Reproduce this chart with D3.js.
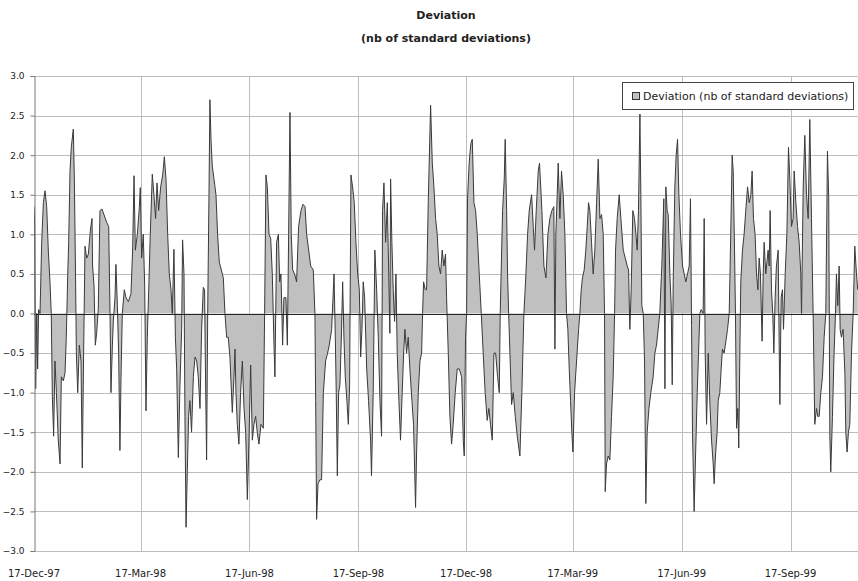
<!DOCTYPE html>
<html>
<head>
<meta charset="utf-8">
<script src="https://cdnjs.cloudflare.com/ajax/libs/d3/7.8.5/d3.min.js"></script>
<style>
body { margin: 0; background: #fff; }
svg { display: block; }
text { font-family: "DejaVu Sans", sans-serif; fill: #222; }
</style>
</head>
<body>
<svg width="858" height="581"></svg>
<script>
const titleLines = ["Deviation", "(nb of standard deviations)"];
const seriesName = "Deviation (nb of standard deviations)";
const startDate = "17-Dec-97";
const endDate = "13-Nov-99";
const tickLabels = ["17-Dec-97", "17-Mar-98", "17-Jun-98", "17-Sep-98", "17-Dec-98", "17-Mar-99", "17-Jun-99", "17-Sep-99"];
const yTicks = [3, 2.5, 2, 1.5, 1, 0.5, 0, -0.5, -1, -1.5, -2, -2.5, -3];

// days after 17-Dec-97
const dayOffsets = [
  0.0, 0.6, 1.4, 2.3, 3.1, 3.9, 5.1, 6.5, 7.9, 9.3, 10.7, 12.1, 13.5, 14.6, 15.5, 16.6, 17.7, 18.9, 20.5, 22.0,
  23.1, 24.8, 26.2, 27.3, 28.4, 29.3, 30.4, 31.5, 33.2, 34.1, 34.9, 35.8, 36.9, 38.3, 39.7, 40.8, 41.9, 43.1, 44.5, 45.9,
  47.6, 49.0, 49.5, 50.7, 51.8, 52.9, 54.3, 55.7, 57.4, 59.1, 61.4, 63.1, 64.2, 65.0, 66.2, 67.0, 68.4, 69.2, 70.4, 71.5,
  72.6, 73.5, 74.6, 76.3, 77.7, 79.7, 81.9, 83.3, 84.5, 85.6, 87.3, 89.0, 89.8, 90.9, 92.3, 93.5, 94.6, 95.7, 97.1, 98.2,
  99.9, 101.3, 102.7, 103.9, 105.3, 107.0, 108.7, 110.1, 111.5, 112.9, 114.3, 115.7, 116.8, 118.2, 119.4, 120.5, 121.9, 123.3, 124.7, 125.5,
  126.7, 127.5, 128.4, 129.5, 130.6, 131.7, 133.1, 134.6, 136.0, 137.4, 138.8, 140.2, 141.6, 143.0, 144.1,
  144.7, 145.8, 146.7, 147.8, 148.6, 149.5, 150.6, 152.0, 153.7, 155.1, 156.5, 158.2, 159.9, 161.3, 162.7, 164.1, 165.5, 167.5, 168.9, 169.8,
  170.6, 171.7, 173.1, 174.5, 176.0, 177.4, 178.8, 180.2, 181.6, 183.0, 184.4, 185.8, 187.2, 188.6, 190.0, 191.7, 193.7, 194.8, 195.9, 197.1,
  198.5, 199.9, 201.3, 202.7, 203.5, 204.9, 206.4, 207.5, 208.6, 209.4, 210.0, 211.1, 212.8, 214.0, 215.1, 216.2, 217.3, 218.5, 220.1, 221.8,
  223.5, 225.5, 227.2, 228.9, 230.3, 232.0, 233.7, 235.9, 237.3, 237.9, 238.7, 239.9, 241.5, 242.9, 244.4, 246.3, 248.0, 249.4, 251.4, 253.4,
  254.5, 255.3, 256.2, 257.3, 258.4, 259.8, 260.7, 261.8, 262.9, 264.3, 265.5, 266.6, 267.7, 269.1, 270.5, 271.9, 273.4, 274.8, 275.9, 277.0,
  278.1, 279.3, 281.0, 282.6, 284.3,
  285.1, 286.5, 287.9, 289.4, 290.8, 292.2, 293.6, 294.4, 295.6, 297.0, 298.4, 299.5, 300.6, 301.2, 302.3, 303.4, 304.6, 305.7, 306.8, 308.2,
  309.6, 311.0, 312.2, 313.3, 314.7, 316.1, 317.5, 319.2, 320.6, 322.3, 323.1, 324.6, 326.0, 327.4, 328.2, 329.1, 330.5, 331.6, 333.0, 335.0,
  336.4, 337.8, 339.2, 340.6, 342.0, 343.4, 344.8, 346.2, 347.6, 348.5, 349.9, 351.3, 352.7, 354.1, 355.8, 357.5, 359.2, 361.2, 362.6, 363.4,
  364.5, 365.4, 366.2, 367.6, 369.0, 370.2, 371.6, 373.0, 374.4, 376.1, 377.8, 379.4, 381.1, 382.8, 384.2, 385.6, 387.1, 388.5, 389.9, 391.6,
  393.0, 393.8, 395.8, 397.2, 398.0, 399.2, 400.0, 400.9, 402.0, 403.4, 404.8, 406.5, 408.2, 410.4, 412.1, 413.8, 415.5, 416.9, 418.3, 420.3,
  421.7, 422.8, 424.2, 425.9, 427.0,
  429.0, 430.7, 432.4, 434.1, 435.7, 437.4, 439.1, 440.0, 440.8, 441.9, 442.8, 444.2, 445.6, 447.0, 448.4, 449.8, 450.9, 452.1, 453.2, 454.3,
  455.2, 456.6, 458.3, 460.0, 461.1, 462.2, 463.3, 464.7, 466.1, 467.3, 468.4, 469.5, 470.9, 472.3, 473.7, 475.2, 476.6, 478.0, 479.4, 480.8,
  481.9, 482.5, 483.6, 485.0, 486.4, 487.8, 489.2, 490.4, 491.2, 492.6, 494.3, 495.7, 497.7, 499.4, 501.1, 502.2, 503.3, 504.4, 505.8, 507.2,
  508.4, 509.5, 510.6, 511.8, 512.6, 513.4, 514.6, 515.7, 516.8, 517.9, 519.4, 521.0, 523.0, 524.4, 525.8, 527.2, 528.6, 530.3, 531.5, 532.0,
  532.9, 533.7, 534.8, 535.7, 537.1, 538.2, 539.1, 539.9, 541.3, 542.4, 543.6, 544.7, 546.1, 547.8, 549.2, 550.6, 552.0, 553.4, 554.5, 555.4,
  556.2, 557.6, 558.8, 560.2, 561.3, 562.4, 563.5, 565.2, 566.1, 566.9, 568.1, 569.5, 570.9,
  572.3, 573.7, 574.5, 575.6, 577.0, 577.9, 579.3, 580.4, 581.5, 582.9, 584.4, 585.8, 587.2, 588.0, 589.7, 590.6, 591.7, 592.5, 593.4, 594.5,
  595.3, 596.2, 597.0, 598.4, 599.8, 601.2, 602.7, 604.1, 605.5, 606.6, 607.7, 609.1, 610.3, 611.4, 612.5, 613.6, 615.0, 615.9, 616.7, 618.1,
  620.1, 621.0, 621.8, 622.9, 624.0, 624.9, 626.0, 627.1, 628.6, 629.4, 630.0, 631.1, 632.2, 633.1, 634.5, 635.9, 637.3, 638.4, 639.8, 641.2,
  642.1, 643.5, 644.9, 646.3, 647.7, 648.3, 649.7, 651.1, 652.5, 653.9, 655.3, 656.7, 658.1, 659.5, 660.9, 662.1, 663.2, 664.6, 666.0, 667.4,
  668.8, 670.2, 671.3, 672.2, 673.0, 674.4, 675.8, 677.0, 677.8, 678.9, 680.1, 680.9, 682.0, 683.4, 684.9, 685.7, 686.8, 687.9, 689.1, 690.5,
  691.9, 693.3, 694.7, 695.8
];

const deviation = [
  1.35, 1.1, -0.95, 0.0, -0.7, 0.05, 0.0, 0.9, 1.4, 1.55, 1.35, 0.8, 0.4, 0.0, -1.05, -1.55, -0.6, -1.0, -1.6, -1.9,
  -0.8, -0.85, -0.75, -0.3, 0.45, 0.9, 1.8, 2.1, 2.33, 1.7, 0.7, -0.5, -1.0, -0.4, -0.6, -1.95, -0.5, 0.85, 0.7, 0.75,
  1.05, 1.2, 0.6, 0.35, -0.4, -0.25, 0.05, 1.3, 1.32, 1.25, 1.15, 1.1, 0.0, -1.0, -0.4, -0.1, 0.2, 0.62, 0.1, -0.5,
  -1.73, -0.8, 0.0, 0.3, 0.2, 0.15, 0.25, 0.8, 1.74, 0.8, 1.0, 1.35, 1.59, 0.7, 1.0, 0.35, -1.23, -0.3, 0.4, 1.0,
  1.76, 1.5, 1.2, 1.65, 1.3, 1.6, 1.75, 1.98, 1.7, 1.0, 0.5, 0.3, 0.0, 0.81, -0.3, -0.7, -1.82, -0.9, -0.2, 0.93,
  0.5, -1.3, -2.7, -2.0, -1.3, -1.1, -1.5, -0.8, -0.55, -0.6, -0.8, -1.2, -0.2, 0.33, 0.3,
  -0.6, -1.85, 0.0, 1.5, 2.7, 2.2, 1.86, 1.7, 1.5, 1.0, 0.65, 0.55, 0.45, 0.0, -0.3, -0.3, -0.55, -1.25, -0.8, -0.45,
  -1.0, -1.4, -1.65, -1.0, -0.6, -1.2, -1.5, -2.35, -1.6, -0.65, -1.6, -1.4, -1.3, -1.5, -1.65, -1.4, -1.45, 0.0, 1.75, 1.6,
  1.0, 0.95, 0.5, -0.4, -0.8, 0.9, 1.0, 0.4, 0.5, 0.0, -0.4, 0.2, 0.2, -0.4, 1.0, 2.54, 1.0, 0.55, 0.5, 0.4,
  1.1, 1.3, 1.38, 1.35, 1.0, 0.8, 0.6, 0.55, 0.0, -1.1, -2.6, -2.15, -2.1, -2.1, -1.0, -0.6, -0.5, -0.4, -0.2, 0.5,
  -0.3, -1.0, -2.05, -1.0, -0.9, -0.2, 0.4, -0.3, -0.8, -1.1, -1.4, -0.9, 1.75, 1.6, 1.4, 0.9, 0.5, 0.3, -0.55, -0.2,
  0.4, 0.2, -0.7, -1.1, -1.6,
  -2.05, -1.0, 0.8, 0.3, -0.3, -1.1, -1.55, 1.3, 1.65, 0.9, 1.4, 0.6, -0.25, 1.7, 0.9, 0.3, -0.1, 0.5, -0.5, -1.1,
  -1.6, -1.0, -0.5, -0.2, -0.5, -0.3, -0.7, -1.1, -1.4, -2.45, -1.8, -1.0, -0.6, -0.5, 0.0, 0.4, 0.3, 0.3, 1.4, 2.63,
  1.9, 1.6, 1.2, 1.0, 0.6, 0.5, 0.8, 0.6, 0.75, 0.2, -0.5, -1.3, -1.65, -1.4, -1.0, -0.7, -0.7, -0.8, -1.6, -1.8,
  -0.3, 0.0, 1.45, 1.9, 2.15, 2.2, 1.4, 1.3, 1.0, 0.5, 0.0, -0.5, -1.0, -1.35, -1.2, -1.4, -1.6, -0.5, -0.5, -0.8,
  -1.0, 0.0, 1.3, 1.7, 2.2, 1.3, 0.5, 0.0, -0.5, -1.15, -1.0, -1.3, -1.55, -1.8, -1.0, 0.0, 0.5, 1.0, 1.3, 1.5,
  1.1, 0.8, 1.3, 1.8, 1.9,
  1.3, 0.6, 0.45, 1.0, 1.2, 1.3, 1.35, -0.45, 1.0, 1.5, 1.9, 1.2, 1.8, 1.5, 1.0, 0.0, -0.2, -0.7, -1.1, -1.5,
  -1.75, -1.0, -0.6, -0.2, 0.0, 0.3, 0.45, 0.55, 0.8, 1.1, 1.4, 1.3, 0.9, 0.5, 0.8, 1.4, 1.95, 1.2, 1.25, 1.0,
  0.0, -2.25, -1.9, -1.8, -1.85, -1.3, -0.8, 0.0, 0.8, 1.2, 1.5, 1.2, 0.8, 0.7, 0.6, 0.55, -0.2, 0.3, 1.3, 1.2,
  1.0, 0.8, 1.3, 2.52, 1.5, 0.1, 0.0, -0.6, -2.4, -1.5, -1.2, -1.0, -0.8, -0.5, -0.4, -0.2, 0.0, 0.6, 1.2, 1.45,
  -0.95, 1.6, 1.3, 1.25, 0.5, 0.1, -0.9, 0.4, 1.6, 2.0, 2.2, 1.5, 1.0, 0.6, 0.5, 0.4, 0.5, 0.6, 1.45, -0.15,
  -1.5, -2.5, -1.8, -1.0, -0.5, 0.0, 0.05, 0.0, 1.2, -0.5, -1.4, -0.5, -1.15,
  -1.6, -1.9, -2.15, -1.8, -1.5, -1.1, -1.0, -0.7, -0.45, -0.5, -0.35, -0.2, 0.0, 0.6, 2.0, 1.8, 0.8, 0.0, -1.45, -1.2,
  -1.7, -0.5, 0.4, 0.8, 1.0, 1.3, 1.6, 1.4, 1.5, 1.8, 1.2, 1.0, 0.5, 0.3, 0.7, 0.5, -0.35, 0.5, 0.9, 0.5,
  0.8, 0.6, 1.3, 0.3, 0.0, -0.5, 0.2, 0.6, 0.8, -0.4, -1.15, 0.2, 0.3, -0.2, 0.5, 1.0, 2.1, 1.7, 1.1, 1.2,
  1.8, 1.4, 1.1, 0.9, 0.5, 0.0, 1.6, 2.25, 1.5, 1.2, 2.45, 1.2, 0.0, -1.4, -1.2, -1.3, -1.3, -1.0, -0.8, -0.3,
  0.0, 2.05, 1.45, -1.55, -2.0, -1.3, -0.5, 0.0, 0.5, 0.1, 0.6, -0.2, -0.3, -0.2, -0.75, -1.5, -1.75, -1.5, -1.4, -0.5,
  0.0, 0.85, 0.5, 0.3
];

const parseDate = d3.timeParse("%d-%b-%y");
const start = parseDate(startDate);
const data = dayOffsets.map((d, i) => ({
  date: d3.timeHour.offset(start, Math.round(d * 24)),
  value: deviation[i]
}));

const svg = d3.select("svg");
const plotLeft = 34, plotRight = 858, plotTop = 76, plotBottom = 551;

const x = d3.scaleTime()
  .domain([start, parseDate(endDate)])
  .range([plotLeft, plotRight]);

const y = d3.scaleLinear()
  .domain([-3, 3])
  .range([plotBottom, plotTop]);

// title
svg.selectAll(".title")
  .data(titleLines)
  .enter()
  .append("text")
  .attr("class", "title")
  .attr("x", 446)
  .attr("y", (d, i) => 19 + i * 23)
  .attr("text-anchor", "middle")
  .style("font-size", "11px")
  .style("font-weight", "bold")
  .text(d => d);

// horizontal gridlines
svg.append("g")
  .selectAll("line")
  .data(yTicks)
  .enter()
  .append("line")
  .attr("x1", plotLeft)
  .attr("x2", plotRight)
  .attr("y1", d => Math.round(y(d)) + 0.5)
  .attr("y2", d => Math.round(y(d)) + 0.5)
  .attr("stroke", "#bdbdbd")
  .attr("stroke-width", 1);

// vertical gridlines
const tickDates = tickLabels.map(parseDate);
svg.append("g")
  .selectAll("line")
  .data(tickDates.slice(1))
  .enter()
  .append("line")
  .attr("x1", d => Math.round(x(d)) + 0.5)
  .attr("x2", d => Math.round(x(d)) + 0.5)
  .attr("y1", plotTop)
  .attr("y2", plotBottom)
  .attr("stroke", "#bdbdbd")
  .attr("stroke-width", 1);

// area series
const area = d3.area()
  .x(d => x(d.date))
  .y0(y(0))
  .y1(d => y(d.value));

const line = d3.line()
  .x(d => x(d.date))
  .y(d => y(d.value));

svg.append("clipPath")
  .attr("id", "plot")
  .append("rect")
  .attr("x", plotLeft)
  .attr("y", plotTop)
  .attr("width", plotRight - plotLeft)
  .attr("height", plotBottom - plotTop);

const plot = svg.append("g").attr("clip-path", "url(#plot)");

plot.append("path")
  .datum(data)
  .attr("d", area)
  .attr("fill", "#c0c0c0");

plot.append("path")
  .datum(data)
  .attr("d", line)
  .attr("fill", "none")
  .attr("stroke", "#3a3a3a")
  .attr("stroke-width", 1);

// zero line
svg.append("line")
  .attr("x1", plotLeft)
  .attr("x2", plotRight)
  .attr("y1", Math.round(y(0)) + 0.5)
  .attr("y2", Math.round(y(0)) + 0.5)
  .attr("stroke", "#222")
  .attr("stroke-width", 1);

// y axis
const yAxis = d3.axisLeft(y)
  .tickValues(yTicks)
  .tickSize(4)
  .tickFormat(d3.format(".1f"));

const yAxisGroup = svg.append("g")
  .attr("transform", `translate(${plotLeft + 0.5}, 0)`)
  .call(yAxis);
yAxisGroup.select(".domain").attr("stroke", "#777");
yAxisGroup.selectAll(".tick line").attr("stroke", "#777");
yAxisGroup.selectAll(".tick text")
  .attr("x", -10)
  .style("font-size", "9px")
  .style("font-family", "DejaVu Sans")
  .attr("fill", "#333");

// x labels
svg.append("g")
  .selectAll("text")
  .data(tickDates)
  .enter()
  .append("text")
  .attr("x", d => x(d))
  .attr("y", 577)
  .attr("text-anchor", "middle")
  .style("font-size", "10px")
  .text((d, i) => tickLabels[i]);

// legend
const legend = svg.append("g");
legend.append("rect")
  .attr("x", 622.5)
  .attr("y", 82.5)
  .attr("width", 231)
  .attr("height", 27)
  .attr("fill", "#fff")
  .attr("stroke", "#444");
legend.append("rect")
  .attr("x", 632.5)
  .attr("y", 92.5)
  .attr("width", 7)
  .attr("height", 7)
  .attr("fill", "#c0c0c0")
  .attr("stroke", "#333");
legend.append("text")
  .attr("x", 643)
  .attr("y", 100)
  .style("font-size", "11px")
  .text(seriesName);
</script>
</body>
</html>
